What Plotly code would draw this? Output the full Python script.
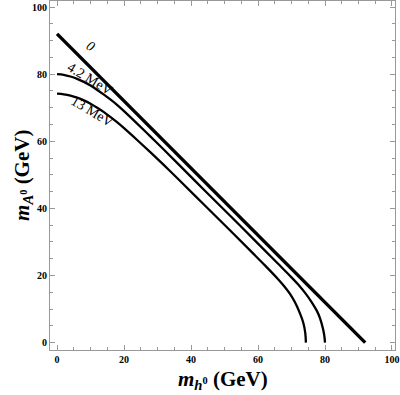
import plotly.graph_objects as go

# curve data (GeV)
line0_x = [0, 92]
line0_y = [92, 0]

mev42_x = [0, 2, 4, 6, 8, 10, 12, 14, 16, 18, 20, 24, 28, 32, 36, 44, 52, 60, 66,
           70, 72, 74, 76, 77.5, 78.5, 79.4, 79.8, 80]
mev42_y = [80, 79.8, 79.3, 78.6, 77.7, 76.6, 75.3, 73.9, 72.4, 70.8, 69.0, 65.2, 61.3,
           57.4, 53.4, 45.4, 37.5, 29.5, 23.5, 19.45, 17.3, 14.9, 12.1, 9.6, 7.3, 4.1, 2.0, 0]

mev13_x = [0, 2, 4, 6, 8, 10, 12, 14, 16, 18, 20, 24, 28, 32, 36, 44, 52, 58, 62,
           66, 68, 69.5, 71, 72.5, 73.5, 74.1, 74.3]
mev13_y = [74.2, 74.0, 73.6, 73.0, 72.2, 71.2, 70.0, 68.7, 67.2, 65.6, 63.9, 60.3, 56.6,
           52.8, 48.9, 41.0, 33.1, 27.1, 23.1, 18.9, 16.6, 14.6, 12.1, 8.8, 6.0, 3.0, 0]

labels = ["<i>0</i>", "4.2 MeV", "13 MeV"]
label_x = [10.1, 9.7, 10.5]
label_y = [88.3, 78.6, 68.8]

fig = go.Figure()

fig.add_trace(go.Scatter(x=line0_x, y=line0_y, mode='lines',
                         line={'width': 3.4, 'color': 'black'}, hoverinfo='none'))
fig.add_trace(go.Scatter(x=mev42_x, y=mev42_y, mode='lines', line_shape='spline',
                         line={'width': 2.3, 'color': 'black'}, hoverinfo='none'))
fig.add_trace(go.Scatter(x=mev13_x, y=mev13_y, mode='lines', line_shape='spline',
                         line={'width': 2.3, 'color': 'black'}, hoverinfo='none'))

for txt, lx, ly in zip(labels, label_x, label_y):
    fig.add_annotation(x=lx, y=ly, text=txt, showarrow=False, textangle=31,
                       font={'family': 'Liberation Serif', 'size': 14, 'color': 'black'})

title_font = {'family': 'Liberation Serif', 'size': 21, 'color': 'black'}
fig.add_annotation(xref='paper', yref='paper', x=0.5, y=-0.085, yanchor='middle',
                   text="<b><i>m</i><sub><i>h</i><sup>0</sup></sub> (GeV)</b>",
                   showarrow=False, font=title_font)
fig.add_annotation(xref='paper', yref='paper', x=-0.08, y=0.5, xanchor='center',
                   textangle=-90,
                   text="<b><i>m</i><sub><i>A</i><sup>0</sup></sub> (GeV)</b>",
                   showarrow=False, font=title_font)

axis_style = dict(
    showline=True,
    mirror='allticks',
    linecolor='#999999',
    linewidth=1,
    showgrid=False,
    zeroline=False,
    automargin=False,
    ticks='inside',
    ticklen=5,
    tickcolor='#999999',
    dtick=20,
    tick0=0,
    tickfont={'family': 'Liberation Serif', 'size': 10, 'color': 'black', 'weight': 'bold'},
    minor=dict(dtick=5, tick0=0, ticks='inside', ticklen=3, tickcolor='#999999'),
)

fig.update_layout(
    width=400,
    height=395,
    xaxis=dict(range=[-2.1, 100.9], **axis_style),
    yaxis=dict(range=[-2.2, 101.8], **axis_style),
    showlegend=False,
    plot_bgcolor='white',
    paper_bgcolor='white',
    margin=dict(l=50, r=5, t=1, b=45),
)

fig.write_html("out.html", config={'displayModeBar': False},
               post_script="document.body.style.margin='0px';")
